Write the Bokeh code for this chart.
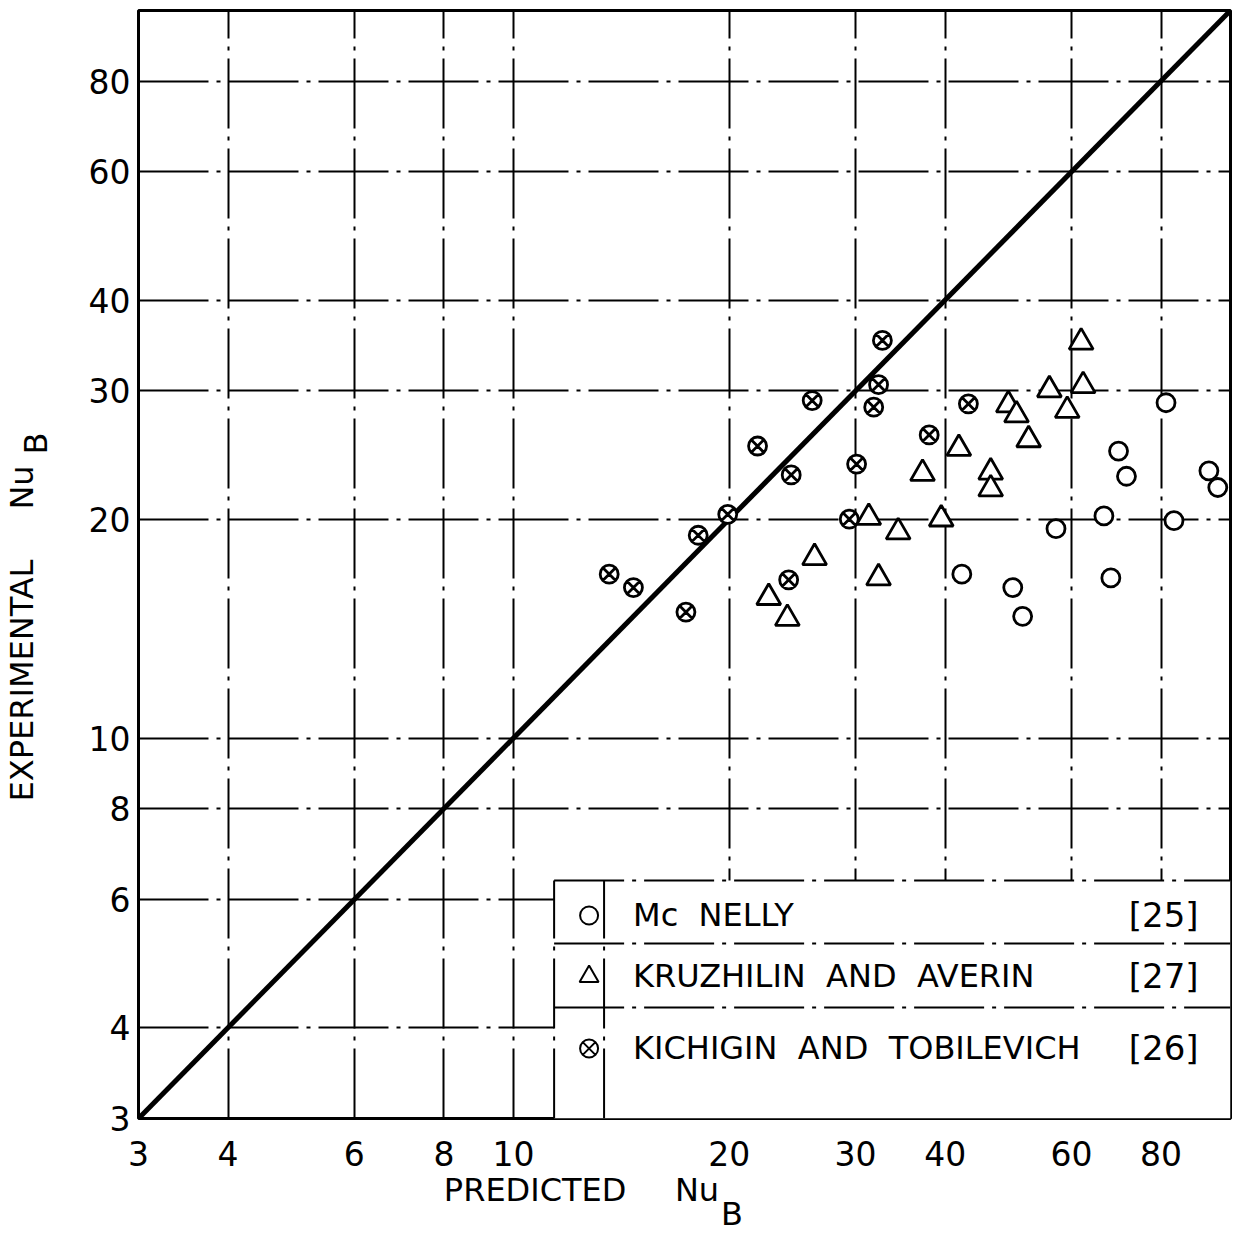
import math
from bokeh.plotting import figure
from bokeh.models import FixedTicker, BoxAnnotation, Range1d, LogAxis
from bokeh.core.properties import value
from bokeh.embed import file_html
from bokeh.resources import INLINE

# ---------------- data ----------------
ticks = [3, 4, 6, 8, 10, 20, 30, 40, 60, 80]
tick_labels = ["3", "4", "6", "8", "10", "20", "30", "40", "60", "80"]
equality = [3, 100]

mcnelly_x = [81.3, 69.8, 71.6, 93.3, 96.0, 66.6, 83.4, 57.1, 42.2, 49.7, 51.3, 68.1]
mcnelly_y = [28.9, 24.8, 22.9, 23.3, 22.1, 20.2, 19.9, 19.4, 16.8, 16.1, 14.7, 16.6]

kruz_x = [61.9, 55.9, 62.3, 59.2, 49.0, 50.3, 52.3, 41.8, 37.2, 46.3, 46.3,
          31.3, 34.4, 39.5, 32.3, 26.3, 22.7, 24.1]
kruz_y = [35.0, 30.1, 30.5, 28.2, 28.7, 27.8, 25.7, 25.0, 23.1, 23.2, 22.0,
          20.1, 19.2, 20.0, 16.6, 17.7, 15.6, 14.6]

kich_x = [13.6, 14.7, 17.4, 18.1, 19.9, 21.9, 24.4, 24.2, 26.1, 30.1, 29.4,
          31.8, 32.3, 32.7, 38.0, 43.1]
kich_y = [16.8, 16.1, 14.9, 19.0, 20.3, 25.2, 23.0, 16.5, 29.1, 23.8, 20.0,
          28.5, 30.6, 35.2, 26.1, 28.8]

NB = "\u00a0"
series_names = [f"Mc {NB}NELLY", f"KRUZHILIN {NB}AND {NB}AVERIN", f"KICHIGIN {NB}AND {NB}TOBILEVICH"]
series_refs = ["[25]", "[27]", "[26]"]
x_title = ["PREDICTED", "Nu", "B"]
y_title = ["EXPERIMENTAL", "Nu", "B"]

# ---------------- layout ----------------
W, H = 1239, 1246
FL, FR, FT, FB = 137, 1230, 10, 1118
XMIN, XMAX, YMIN, YMAX = 3, 100, 3, 100
FONT = "DejaVu Sans"
DASH = "70 8 4 8"
TITLE_SIZE = "32px"


def px2x(px):
    a, b = math.log10(XMIN), math.log10(XMAX)
    return round(10 ** (a + (px - FL) / (FR - FL) * (b - a)), 4)


def px2y(py):
    a, b = math.log10(YMIN), math.log10(YMAX)
    return round(10 ** (a + (FB - py) / (FB - FT) * (b - a)), 4)


p = figure(width=W, height=H, x_axis_type="log", y_axis_type="log",
           x_range=Range1d(XMIN, XMAX), y_range=Range1d(YMIN, YMAX),
           output_backend="svg", toolbar_location=None,
           min_border_left=FL, min_border_right=W - FR,
           min_border_top=FT, min_border_bottom=H - FB)
p.background_fill_color = "white"
p.border_fill_color = "white"
p.outline_line_color = "black"
p.outline_line_width = 3


def style_axis(ax, tick_vals, labels, size, standoff):
    ax.ticker = FixedTicker(ticks=tick_vals)
    ax.major_label_overrides = {t: s for t, s in zip(tick_vals, labels)}
    ax.axis_line_color = None
    ax.major_tick_line_color = None
    ax.minor_tick_line_color = None
    ax.major_tick_in = 0
    ax.major_tick_out = 0
    ax.minor_tick_in = 0
    ax.minor_tick_out = 0
    ax.major_label_text_font = FONT
    ax.major_label_text_font_size = size
    ax.major_label_text_color = "black"
    ax.major_label_standoff = standoff


style_axis(p.xaxis[0], ticks, tick_labels, "33px", 22)
style_axis(p.yaxis[0], ticks, tick_labels, "33px", 8)

# axis titles drawn as labels of extra (tick-less) axes, placed through the scales
xt = LogAxis()
style_axis(xt, [px2x(534), px2x(696)], x_title[:2], TITLE_SIZE, 2)
p.add_layout(xt, "below")
xs = LogAxis()
style_axis(xs, [px2x(731)], x_title[2:], TITLE_SIZE, -17)
p.add_layout(xs, "below")

yt = LogAxis()
style_axis(yt, [px2y(680), px2y(487)], y_title[:2], TITLE_SIZE, 44)
yt.major_label_orientation = "vertical"
p.add_layout(yt, "left")
ys = LogAxis()
style_axis(ys, [px2y(443)], y_title[2:], TITLE_SIZE, -55)
ys.major_label_orientation = "vertical"
p.add_layout(ys, "left")

for g in (p.xgrid[0], p.ygrid[0]):
    g.ticker = FixedTicker(ticks=ticks[1:])
    g.grid_line_color = "black"
    g.grid_line_width = 2
    g.grid_line_dash = DASH
    g.grid_line_alpha = 1.0

# legend box (white panel hiding the grid)
leg_l, leg_sep, leg_t, row1, row2 = px2x(553), px2x(603), px2y(880), px2y(943), px2y(1007)
p.add_layout(BoxAnnotation(left=leg_l, right=XMAX, bottom=YMIN, top=leg_t,
                           fill_color="white", fill_alpha=1.0, line_color=None,
                           level="underlay"))
p.multi_line(xs=[[leg_l, XMAX], [leg_l, XMAX], [leg_l, XMAX], [leg_l, leg_l], [leg_sep, leg_sep]],
             ys=[[leg_t, leg_t], [row1, row1], [row2, row2], [YMIN, leg_t], [YMIN, leg_t]],
             line_color="black", line_width=2, line_dash=DASH)

# line of equality
p.line(equality, equality, line_color="black", line_width=5)

# data points
p.scatter(mcnelly_x, mcnelly_y, marker="circle", size=18, fill_color="white",
          line_color="black", line_width=2.8)
p.scatter(kruz_x, kruz_y, marker="triangle", size=24, fill_color="white",
          line_color="black", line_width=2.8)
p.scatter(kich_x, kich_y, marker="circle_x", size=18, fill_color="white",
          line_color="black", line_width=2.8)

# legend content
row_y = [px2y(915), px2y(976), px2y(1048)]
sym_x = px2x(588)
p.scatter([sym_x], [row_y[0]], marker="circle", size=18, fill_color="white", line_color="black", line_width=2)
p.scatter([sym_x], [row_y[1]], marker="triangle", size=19, fill_color="white", line_color="black", line_width=2)
p.scatter([sym_x], [row_y[2]], marker="circle_x", size=18, fill_color="white", line_color="black", line_width=2)
p.text(x=[px2x(632)] * 3, y=row_y, text=series_names, text_font=value(FONT),
       text_font_size="32px", text_baseline="middle", text_align="left", text_color="black")
p.text(x=[px2x(1198)] * 3, y=row_y, text=series_refs, text_font=value(FONT),
       text_font_size="34px", text_baseline="middle", text_align="right", text_color="black")

open("out.html", "w").write(file_html(p, INLINE))
